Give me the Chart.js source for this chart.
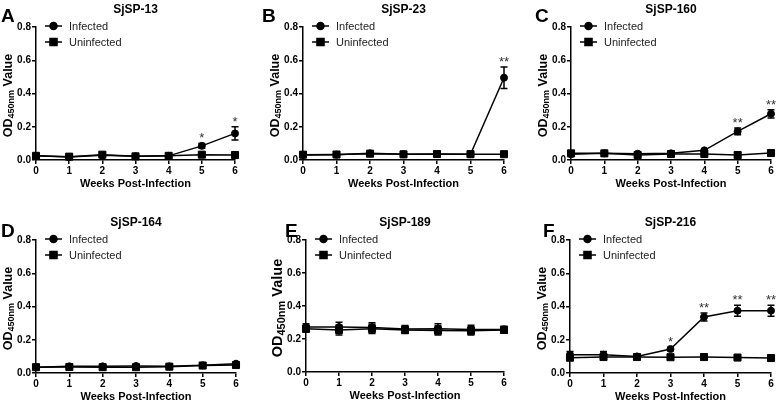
<!DOCTYPE html>
<html>
<head>
<meta charset="utf-8">
<script src="https://cdn.jsdelivr.net/npm/chart.js@4.4.1/dist/chart.umd.min.js"></script>
<style>
  body { margin: 0; background: #fff; }
  #wrap { position: relative; width: 778px; height: 403px; overflow: hidden; background: #fff; }
  #wrap canvas { position: absolute; }
</style>
</head>
<body>
<div id="wrap"></div>
<script>
// weeks post-infection (x values)
const weeks = [0, 1, 2, 3, 4, 5, 6];
const yTicks = [0, 0.2, 0.4, 0.6, 0.8];
const titles = ["SjSP-13", "SjSP-23", "SjSP-160", "SjSP-164", "SjSP-189", "SjSP-216"];
const letters = ["A", "B", "C", "D", "E", "F"];

// SjSP-13
const sp13Inf = [0.025, 0.018, 0.028, 0.022, 0.025, 0.085, 0.16];
const sp13InfErr = [0.005, 0.004, 0.005, 0.004, 0.004, 0.015, 0.04];
const sp13Uninf = [0.025, 0.02, 0.032, 0.022, 0.025, 0.032, 0.03];
const sp13UninfErr = [0.004, 0.004, 0.005, 0.004, 0.004, 0.004, 0.004];
const sp13Stars = ["", "", "", "", "", "*", "*"];

// SjSP-23
const sp23Inf = [0.03, 0.032, 0.04, 0.035, 0.035, 0.035, 0.495];
const sp23InfErr = [0.004, 0.004, 0.005, 0.004, 0.004, 0.004, 0.065];
const sp23Uninf = [0.032, 0.033, 0.038, 0.034, 0.036, 0.035, 0.035];
const sp23UninfErr = [0.004, 0.004, 0.004, 0.004, 0.004, 0.004, 0.004];
const sp23Stars = ["", "", "", "", "", "", "**"];

// SjSP-160
const sp160Inf = [0.035, 0.04, 0.038, 0.04, 0.058, 0.172, 0.278];
const sp160InfErr = [0.005, 0.005, 0.005, 0.005, 0.006, 0.02, 0.025];
const sp160Uninf = [0.04, 0.04, 0.03, 0.036, 0.036, 0.03, 0.042];
const sp160UninfErr = [0.005, 0.005, 0.005, 0.005, 0.005, 0.004, 0.005];
const sp160Stars = ["", "", "", "", "", "**", "**"];

// SjSP-164
const sp164Inf = [0.035, 0.04, 0.04, 0.042, 0.04, 0.046, 0.056];
const sp164InfErr = [0.004, 0.004, 0.004, 0.004, 0.004, 0.004, 0.006];
const sp164Uninf = [0.035, 0.036, 0.035, 0.035, 0.038, 0.045, 0.048];
const sp164UninfErr = [0.004, 0.004, 0.004, 0.004, 0.004, 0.004, 0.005];
const sp164Stars = ["", "", "", "", "", "", ""];

// SjSP-189
const sp189Inf = [0.272, 0.272, 0.27, 0.26, 0.262, 0.258, 0.258];
const sp189InfErr = [0.02, 0.03, 0.028, 0.022, 0.03, 0.025, 0.02];
const sp189Uninf = [0.262, 0.255, 0.262, 0.255, 0.252, 0.25, 0.255];
const sp189UninfErr = [0.02, 0.03, 0.028, 0.022, 0.028, 0.025, 0.02];
const sp189Stars = ["", "", "", "", "", "", ""];

// SjSP-216
const sp216Inf = [0.11, 0.11, 0.1, 0.144, 0.337, 0.375, 0.375];
const sp216InfErr = [0.02, 0.02, 0.012, 0.01, 0.024, 0.033, 0.033];
const sp216Uninf = [0.092, 0.096, 0.096, 0.095, 0.096, 0.093, 0.09];
const sp216UninfErr = [0.008, 0.008, 0.006, 0.005, 0.005, 0.005, 0.005];
const sp216Stars = ["", "", "", "*", "**", "**", "**"];

const panelData = [
  [sp13Inf, sp13InfErr, sp13Uninf, sp13UninfErr, sp13Stars],
  [sp23Inf, sp23InfErr, sp23Uninf, sp23UninfErr, sp23Stars],
  [sp160Inf, sp160InfErr, sp160Uninf, sp160UninfErr, sp160Stars],
  [sp164Inf, sp164InfErr, sp164Uninf, sp164UninfErr, sp164Stars],
  [sp189Inf, sp189InfErr, sp189Uninf, sp189UninfErr, sp189Stars],
  [sp216Inf, sp216InfErr, sp216Uninf, sp216UninfErr, sp216Stars]
];

// canvas box + plot area edges (relative to canvas)
const boxes = [
  { x: 0,   y: 0,   w: 260, h: 200, L: 36, R: 235, T: 27, B: 160, letterX: 1,  letterY: 22, odSize: 12.5 },
  { x: 260, y: 0,   w: 258, h: 200, L: 43, R: 244, T: 27, B: 160, letterX: 2,  letterY: 22, odSize: 12.5 },
  { x: 518, y: 0,   w: 260, h: 200, L: 53, R: 253, T: 27, B: 160, letterX: 17, letterY: 22, odSize: 12.5 },
  { x: 0,   y: 200, w: 260, h: 203, L: 36, R: 236, T: 40, B: 173, letterX: 1,  letterY: 37, odSize: 12.5 },
  { x: 260, y: 200, w: 258, h: 203, L: 46, R: 244, T: 40, B: 172, letterX: 25, letterY: 37, odSize: 14.5 },
  { x: 518, y: 200, w: 260, h: 203, L: 52, R: 253, T: 40, B: 173, letterX: 25, letterY: 37, odSize: 12.5 }
];

const FONT = '"Liberation Sans", Arial, sans-serif';

// error bars, stars, legend, titles
const extrasPlugin = {
  id: "extras",
  afterDatasetsDraw(chart) {
    const ctx = chart.ctx;
    const xs = chart.scales.x, ys = chart.scales.y;
    const o = chart.options.plugins.extras;
    ctx.save();
    ctx.strokeStyle = "#000";
    ctx.lineWidth = 1.5;
    o.errs.forEach((err, d) => {
      const vals = chart.data.datasets[d].data;
      vals.forEach((p, i) => {
        const px = xs.getPixelForValue(p.x);
        const top = ys.getPixelForValue(p.y + err[i]);
        const bot = ys.getPixelForValue(p.y - err[i]);
        ctx.beginPath();
        ctx.moveTo(px, top); ctx.lineTo(px, bot);
        ctx.moveTo(px - 3.5, top); ctx.lineTo(px + 3.5, top);
        ctx.moveTo(px - 3.5, bot); ctx.lineTo(px + 3.5, bot);
        ctx.stroke();
      });
    });
    // significance stars
    ctx.fillStyle = "#333";
    ctx.font = "13px " + FONT;
    ctx.textAlign = "center";
    ctx.textBaseline = "alphabetic";
    const inf = chart.data.datasets[0].data;
    o.stars.forEach((s, i) => {
      if (!s) return;
      const top = ys.getPixelForValue(inf[i].y + o.errs[0][i]);
      ctx.fillText(s, xs.getPixelForValue(inf[i].x), top - 1);
    });
    ctx.restore();
  },
  afterDraw(chart) {
    const ctx = chart.ctx;
    const a = chart.chartArea;
    const o = chart.options.plugins.extras;
    ctx.save();
    ctx.fillStyle = "#000";
    // panel letter
    ctx.font = "bold 19px " + FONT;
    ctx.textAlign = "left";
    ctx.textBaseline = "alphabetic";
    ctx.fillText(o.letter, o.letterX, o.letterY);
    // title
    ctx.font = "bold 12px " + FONT;
    ctx.textAlign = "center";
    ctx.fillText(o.title, (a.left + a.right) / 2, a.top - 14);
    // x axis title
    ctx.font = "bold 11px " + FONT;
    ctx.fillText("Weeks Post-Infection", (a.left + a.right) / 2, a.bottom + 27);
    // y axis title with subscript
    ctx.translate(a.left - 29, (a.top + a.bottom) / 2 + 2);
    ctx.rotate(-Math.PI / 2);
    const big = "bold " + o.odSize + "px " + FONT;
    const small = "bold " + Math.round(o.odSize * 0.75) + "px " + FONT;
    ctx.font = big; const w1 = ctx.measureText("OD").width; const w3 = ctx.measureText(" Value").width;
    ctx.font = small; const w2 = ctx.measureText("450nm").width;
    let x = -(w1 + w2 + w3) / 2;
    const base = o.odSize * 0.36;
    ctx.textAlign = "left";
    ctx.font = big; ctx.fillText("OD", x, base); x += w1;
    ctx.font = small; ctx.fillText("450nm", x, base + o.odSize * 0.22); x += w2;
    ctx.font = big; ctx.fillText(" Value", x, base);
    ctx.restore();

    // legend
    ctx.save();
    ctx.strokeStyle = "#000";
    ctx.fillStyle = "#000";
    ctx.lineWidth = 1.5;
    chart.data.datasets.forEach((ds, i) => {
      const ly = a.top - 1 + i * 16;
      const lx = a.left + 9;
      ctx.beginPath();
      ctx.moveTo(lx, ly); ctx.lineTo(lx + 17, ly);
      ctx.stroke();
      Chart.helpers.drawPoint(ctx, { pointStyle: ds.pointStyle, radius: ds.pointRadius, borderWidth: 1 }, lx + 8.5, ly);
      ctx.fillStyle = "#222";
      ctx.font = "11px " + FONT;
      ctx.textBaseline = "middle";
      ctx.textAlign = "left";
      ctx.fillText(ds.label, a.left + 33, ly + 0.5);
      ctx.fillStyle = "#000";
    });
    ctx.restore();
  }
};

const wrap = document.getElementById("wrap");

boxes.forEach((b, k) => {
  const [inf, infErr, uninf, uninfErr, stars] = panelData[k];
  const canvas = document.createElement("canvas");
  canvas.width = b.w;
  canvas.height = b.h;
  canvas.style.left = b.x + "px";
  canvas.style.top = b.y + "px";
  wrap.append(canvas);

  const tickFont = { family: FONT, size: 10, weight: "bold" };
  new Chart(canvas, {
    type: "line",
    data: {
      datasets: [
        {
          label: "Infected",
          data: weeks.map((w, i) => ({ x: w, y: inf[i] })),
          borderColor: "#000", backgroundColor: "#000",
          borderWidth: 1.5, pointStyle: "circle", pointRadius: 3.5,
          pointBorderWidth: 1, tension: 0, clip: false
        },
        {
          label: "Uninfected",
          data: weeks.map((w, i) => ({ x: w, y: uninf[i] })),
          borderColor: "#000", backgroundColor: "#000",
          borderWidth: 1.5, pointStyle: "rect", pointRadius: 5,
          pointBorderWidth: 1, tension: 0, clip: false
        }
      ]
    },
    options: {
      responsive: false,
      animation: false,
      devicePixelRatio: 1,
      layout: { padding: { top: b.T, left: 0, right: b.w - b.R, bottom: 0 } },
      plugins: {
        legend: { display: false },
        title: { display: false },
        tooltip: { enabled: false },
        extras: {
          errs: [infErr, uninfErr], stars: stars,
          title: titles[k], letter: letters[k], letterX: b.letterX, letterY: b.letterY, odSize: b.odSize
        }
      },
      scales: {
        x: {
          type: "linear", min: 0, max: 6,
          border: { color: "#000", width: 1.5 },
          grid: { drawOnChartArea: false, drawTicks: true, tickLength: 4, color: "#000", lineWidth: 1.5 },
          ticks: { stepSize: 1, color: "#000", font: tickFont, padding: 1, maxRotation: 0 },
          afterFit(s) { s.height = b.h - b.B; }
        },
        y: {
          min: 0, max: 0.8,
          border: { color: "#000", width: 1.5 },
          grid: { drawOnChartArea: false, drawTicks: true, tickLength: 4, color: "#000", lineWidth: 1.5 },
          ticks: { color: "#000", font: tickFont, padding: 1, callback: v => Number(v).toFixed(1) },
          afterBuildTicks(s) { s.ticks = yTicks.map(v => ({ value: v })); },
          afterFit(s) { s.width = b.L; }
        }
      }
    },
    plugins: [extrasPlugin]
  });
});
</script>
</body>
</html>
